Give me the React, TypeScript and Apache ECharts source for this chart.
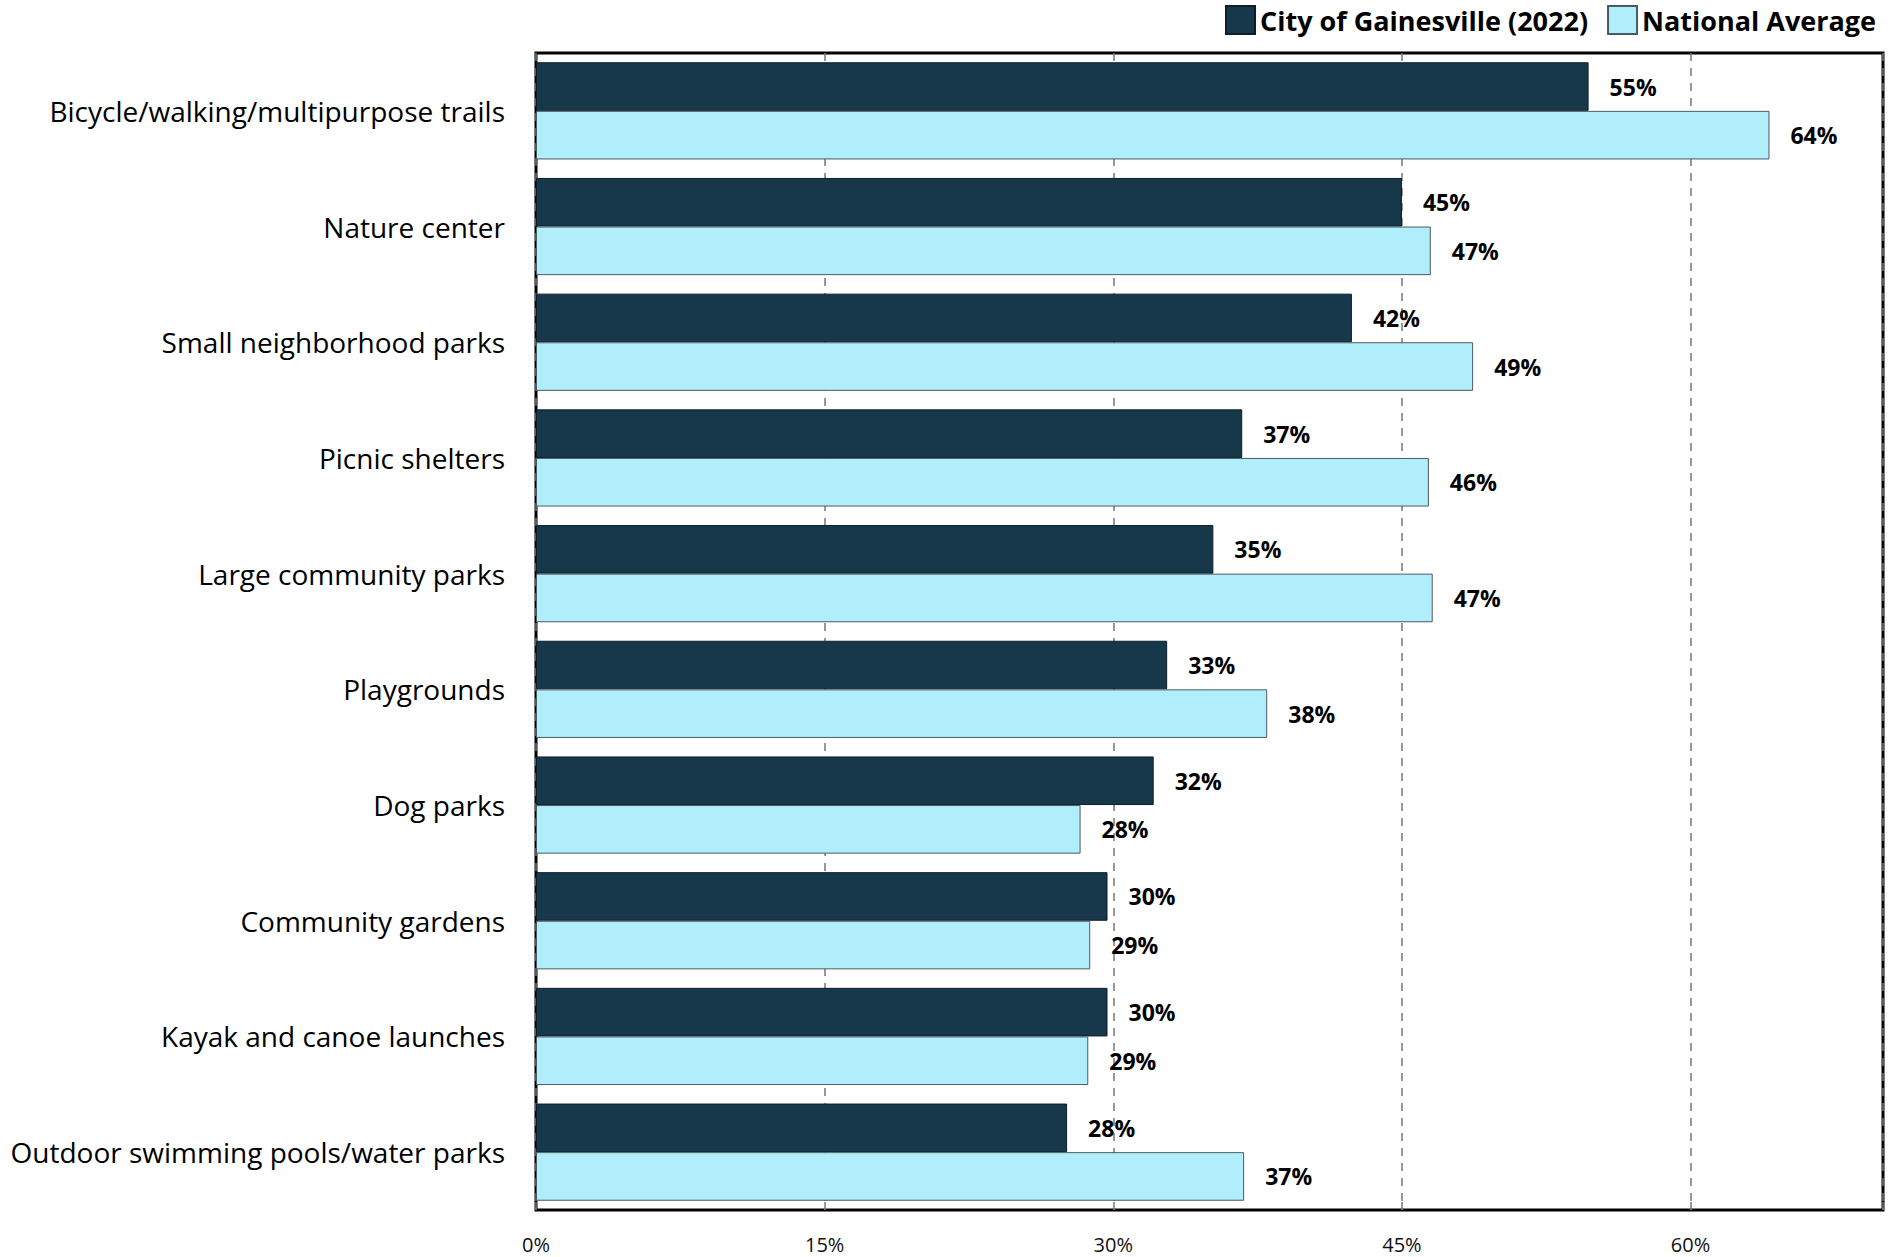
import React, { useEffect, useRef } from "react";
import * as echarts from "echarts";

const categories = [
  "Bicycle/walking/multipurpose trails",
  "Nature center",
  "Small neighborhood parks",
  "Picnic shelters",
  "Large community parks",
  "Playgrounds",
  "Dog parks",
  "Community gardens",
  "Kayak and canoe launches",
  "Outdoor swimming pools/water parks",
];

const gainesville = [54.7, 45.0, 42.4, 36.7, 35.2, 32.8, 32.1, 29.7, 29.7, 27.6];
const national = [64.1, 46.5, 48.7, 46.4, 46.6, 38.0, 28.3, 28.8, 28.7, 36.8];

const seriesNames = ["City of Gainesville (2022)", "National Average"];
const xTicks = [0, 15, 30, 45, 60];

export default function App() {
  const ref = useRef<HTMLDivElement>(null);
  useEffect(() => {
    if (!ref.current) return;
    const chart = echarts.init(ref.current, null, { renderer: "svg" });
    const labelStyle = {
      show: true,
      position: "right",
      distance: 21,
      fontFamily: "Open Sans",
      fontWeight: "bold",
      fontSize: 23,
      color: "#000",
      formatter: (p: any) => Math.round(p.value) + "%",
    };
    chart.setOption({
      animation: false,
      backgroundColor: "#fff",
      legend: {
        right: 11,
        top: 0,
        icon: "rect",
        itemWidth: 29,
        itemHeight: 28,
        itemGap: 19,
        textStyle: {
          fontFamily: "Open Sans",
          fontWeight: "bold",
          fontSize: 27,
          color: "#000",
        },
        data: seriesNames,
      },
      grid: {
        left: 536,
        right: 9,
        top: 53,
        bottom: 47,
        show: true,
        borderColor: "#000",
        borderWidth: 3,
        containLabel: false,
      },
      xAxis: {
        type: "value",
        min: 0,
        max: 70,
        interval: 15,
        axisLine: { show: false },
        axisTick: {
          show: true,
          inside: true,
          length: 8,
          lineStyle: { color: "#777", width: 1.5 },
        },
        splitLine: {
          show: true,
          lineStyle: { color: "#777", width: 1.5, type: [8, 7] },
        },
        axisLabel: {
          margin: 24,
          fontFamily: "Open Sans",
          fontSize: 20,
          color: "#111",
          formatter: (v: number) => (xTicks.includes(v) ? v + "%" : ""),
        },
      },
      yAxis: {
        type: "category",
        inverse: true,
        data: categories,
        axisLine: { show: false },
        axisTick: { show: false },
        axisLabel: {
          margin: 31,
          fontFamily: "Open Sans",
          fontSize: 28,
          color: "#000",
        },
      },
      series: [
        {
          name: seriesNames[0],
          type: "bar",
          data: gainesville,
          barGap: "0%",
          barCategoryGap: "16%",
          itemStyle: { color: "#17374B", borderColor: "#0b1e2b", borderWidth: 1 },
          label: labelStyle,
        },
        {
          name: seriesNames[1],
          type: "bar",
          data: national,
          barGap: "0%",
          barCategoryGap: "16%",
          itemStyle: { color: "#B1EEFC", borderColor: "#4a5a62", borderWidth: 1 },
          label: labelStyle,
        },
      ],
    });
    return () => chart.dispose();
  }, []);
  return (
    <div
      ref={ref}
      style={{ position: "absolute", left: 0, top: 0, width: 1892, height: 1257 }}
    />
  );
}
